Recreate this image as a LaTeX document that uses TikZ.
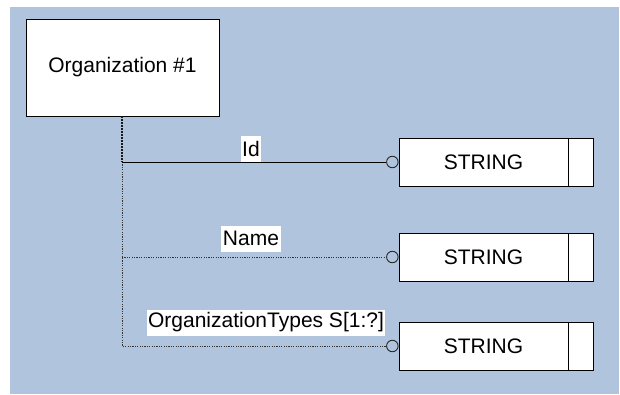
\documentclass[tikz,border=0pt]{standalone}
\usepackage{fontspec}
\setmainfont{Liberation Sans}
\definecolor{bgblue}{RGB}{176,196,222}
\tikzset{
  entbox/.style={draw=black, fill=white, line width=0.9pt, inner sep=0pt, minimum width=193pt, minimum height=97pt},
  strbox/.style={draw=black, fill=white, line width=0.9pt, inner sep=0pt, minimum width=169pt, minimum height=48pt},
  tailbox/.style={draw=black, fill=white, line width=0.9pt, inner sep=0pt, minimum width=25pt, minimum height=48pt},
  opencirc/.style={circle, draw=black!85, line width=0.9pt, inner sep=0pt, minimum size=11.5pt},
  lbl/.style={fill=white, inner xsep=1.5pt, inner ysep=0pt, minimum height=26pt},
  dotline/.style={draw=black!80, line width=0.9pt, dash pattern=on 1.2pt off 1.2pt},
  topline/.style={draw=black!90, line width=1.6pt, dash pattern=on 2pt off 1pt},
  solidline/.style={draw=black, line width=1pt}
}
\begin{document}
\begin{tikzpicture}[x=1pt,y=-1pt]
\useasboundingbox (0,0) rectangle (620,394);
\fill[bgblue] (10,7) rectangle (619,394);
\fontsize{21}{25}\selectfont
\node[entbox] (org) at (122.5,67.5) {Organization \#1};
% string boxes
\node[strbox] (s1) at (483.5,162) {STRING};
\node[tailbox, anchor=west] (s1t) at (s1.east) {};
\node[strbox] (s2) at (483.5,257) {STRING};
\node[tailbox, anchor=west] (s2t) at (s2.east) {};
\node[strbox] (s3) at (483.5,346) {STRING};
\node[tailbox, anchor=west] (s3t) at (s3.east) {};
% circles
\node[opencirc, anchor=east] (c1) at (s1.west) {};
\node[opencirc, anchor=east] (c2) at (s2.west) {};
\node[opencirc, anchor=east] (c3) at (s3.west) {};
% junctions
\coordinate (j1) at (122,162);
\coordinate (j2) at (122,257);
\coordinate (j3) at (122,346);
% connectors
\draw[dotline] (j1) -- (j3) -- (c3.west);
\draw[dotline] (j2) -- (c2.west);
\draw[topline] (org.south -| j1) -- (j1);
\draw[solidline] (j1) -- (c1.west);
% labels
\node[lbl] (l1) at (251,149) {Id};
\node[lbl] (l2) at (251,238.5) {Name};
\node[lbl] (l3) at (266,322.5) {OrganizationTypes S[1:?]};
\end{tikzpicture}
\end{document}
